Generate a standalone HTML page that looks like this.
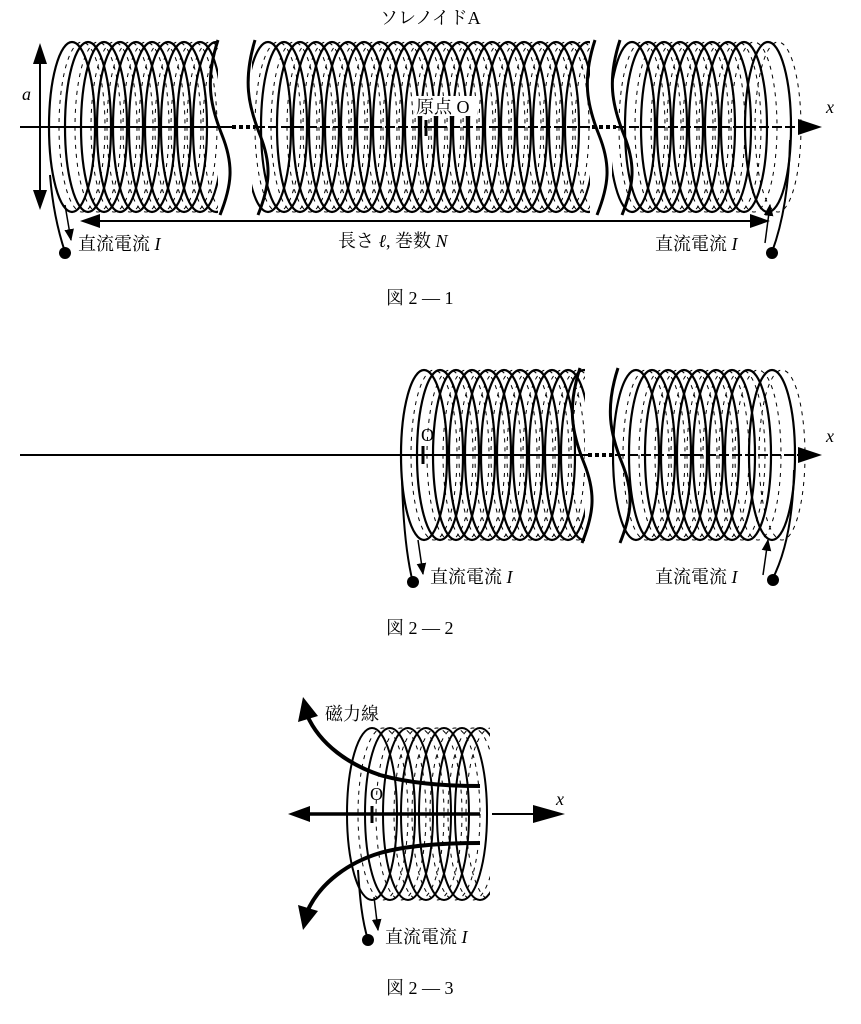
<!DOCTYPE html>
<html><head><meta charset="utf-8"><style>
body{margin:0;background:#fff}
svg{display:block}
text{font-family:"Liberation Serif","Noto Serif CJK SC",serif;fill:#000}
.it{font-style:italic}
</style></head><body>
<svg width="861" height="1024" viewBox="0 0 861 1024">
<defs>
<g id="L1"><ellipse cx="0" cy="0" rx="23" ry="85" fill="none" stroke="#000" stroke-width="2.2"/><ellipse cx="10" cy="0" rx="23" ry="85" fill="none" stroke="#000" stroke-width="1" stroke-dasharray="4 5"/></g>
<g id="L3"><ellipse cx="0" cy="0" rx="25" ry="86" fill="none" stroke="#000" stroke-width="2"/><ellipse cx="11" cy="0" rx="25" ry="86" fill="none" stroke="#000" stroke-width="1" stroke-dasharray="4 5"/></g>
<clipPath id="c1a"><rect x="0" y="0" width="218" height="300"/></clipPath>
<clipPath id="c1b"><rect x="252" y="0" width="338" height="300"/></clipPath>
<clipPath id="c1c"><rect x="612" y="0" width="200" height="300"/></clipPath>
<clipPath id="c2a"><rect x="380" y="300" width="205" height="300"/></clipPath>
<clipPath id="c2b"><rect x="612" y="300" width="200" height="300"/></clipPath>
<clipPath id="c3"><rect x="300" y="700" width="190" height="220"/></clipPath>
<marker id="ah" viewBox="0 0 10 10" refX="9" refY="5" markerWidth="8" markerHeight="8" orient="auto-start-reverse"><path d="M0 1 L10 5 L0 9 Z"/></marker>
</defs>

<!-- FIG 1 -->
<text x="380" y="24" font-size="18">ソレノイドA</text>
<g clip-path="url(#c1a)"><g transform="translate(0,127)">
<use href="#L1" x="72"/><use href="#L1" x="88"/><use href="#L1" x="104"/><use href="#L1" x="120"/><use href="#L1" x="136"/><use href="#L1" x="152"/><use href="#L1" x="168"/><use href="#L1" x="184"/><use href="#L1" x="200"/><use href="#L1" x="216"/>
</g></g>
<g clip-path="url(#c1b)"><g transform="translate(0,127)">
<use href="#L1" x="268"/><use href="#L1" x="284"/><use href="#L1" x="300"/><use href="#L1" x="316"/><use href="#L1" x="332"/><use href="#L1" x="348"/><use href="#L1" x="364"/><use href="#L1" x="380"/><use href="#L1" x="396"/><use href="#L1" x="412"/><use href="#L1" x="428"/><use href="#L1" x="444"/><use href="#L1" x="460"/><use href="#L1" x="476"/><use href="#L1" x="492"/><use href="#L1" x="508"/><use href="#L1" x="524"/><use href="#L1" x="540"/><use href="#L1" x="556"/><use href="#L1" x="572"/><use href="#L1" x="588"/>
</g></g>
<g clip-path="url(#c1c)"><g transform="translate(0,127)">
<use href="#L1" x="632"/><use href="#L1" x="648"/><use href="#L1" x="664"/><use href="#L1" x="680"/><use href="#L1" x="696"/><use href="#L1" x="712"/><use href="#L1" x="728"/><use href="#L1" x="744"/><use href="#L1" x="768"/>
</g></g>
<g fill="none" stroke="#000" stroke-width="3">
<path d="M218 40 C205 80 210 105 222 135 S232 185 220 215"/>
<path d="M255 40 C243 80 248 105 260 135 S270 185 258 215"/>
<path d="M595 40 C582 80 587 105 599 135 S609 185 597 215"/>
<path d="M620 40 C607 80 612 105 624 135 S634 185 622 215"/>
</g>
<line x1="20" y1="127" x2="232" y2="127" stroke="#000" stroke-width="2"/>
<line x1="232" y1="127" x2="255" y2="127" stroke="#000" stroke-width="4" stroke-dasharray="4 3"/>
<line x1="255" y1="127" x2="592" y2="127" stroke="#000" stroke-width="2" stroke-dasharray="10 3"/>
<line x1="592" y1="127" x2="616" y2="127" stroke="#000" stroke-width="4" stroke-dasharray="4 3"/>
<line x1="616" y1="127" x2="800" y2="127" stroke="#000" stroke-width="2" stroke-dasharray="10 3"/>
<path d="M798 119 L822 127 L798 135 Z"/>
<text x="826" y="113" font-size="18" class="it">x</text>
<text x="22" y="100" font-size="18" class="it">a</text>
<line x1="40" y1="50" x2="40" y2="205" stroke="#000" stroke-width="2"/>
<path d="M33 64 L40 43 L47 64 Z"/><path d="M33 190 L40 210 L47 190 Z"/>
<line x1="426" y1="120" x2="426" y2="136" stroke="#000" stroke-width="3"/>
<rect x="415" y="96" width="62" height="20" fill="#fff"/>
<text x="416" y="113" font-size="18">原点 O</text>
<line x1="90" y1="221" x2="760" y2="221" stroke="#000" stroke-width="2"/>
<path d="M100 214 L80 221 L100 228 Z"/><path d="M750 214 L770 221 L750 228 Z"/>
<rect x="336" y="228" width="170" height="22" fill="#fff"/>
<text x="338" y="247" font-size="18">長さ <tspan class="it">ℓ</tspan>, 巻数 <tspan class="it">N</tspan></text>
<path d="M50 175 C52 200 56 225 65 252" fill="none" stroke="#000" stroke-width="2"/>
<line x1="65" y1="205" x2="71" y2="240" stroke="#000" stroke-width="1.5" marker-end="url(#ah)"/>
<circle cx="65" cy="253" r="6"/>
<text x="78" y="250" font-size="18">直流電流 <tspan class="it">I</tspan></text>
<path d="M790 140 C789 190 782 225 772 252" fill="none" stroke="#000" stroke-width="2"/>
<line x1="765" y1="243" x2="770" y2="205" stroke="#000" stroke-width="1.5" marker-end="url(#ah)"/>
<circle cx="772" cy="253" r="6"/>
<text x="655" y="250" font-size="18">直流電流 <tspan class="it">I</tspan></text>
<text x="386" y="304" font-size="18">図 2 — 1</text>

<!-- FIG 2 -->
<g clip-path="url(#c2a)"><g transform="translate(0,455)">
<use href="#L1" x="424"/><use href="#L1" x="440"/><use href="#L1" x="456"/><use href="#L1" x="472"/><use href="#L1" x="488"/><use href="#L1" x="504"/><use href="#L1" x="520"/><use href="#L1" x="536"/><use href="#L1" x="552"/><use href="#L1" x="568"/><use href="#L1" x="584"/>
</g></g>
<g clip-path="url(#c2b)"><g transform="translate(0,455)">
<use href="#L1" x="636"/><use href="#L1" x="652"/><use href="#L1" x="668"/><use href="#L1" x="684"/><use href="#L1" x="700"/><use href="#L1" x="716"/><use href="#L1" x="732"/><use href="#L1" x="748"/><use href="#L1" x="772"/>
</g></g>
<g fill="none" stroke="#000" stroke-width="3">
<path d="M580 368 C567 408 572 433 584 463 S594 513 582 543"/>
<path d="M618 368 C605 408 610 433 622 463 S632 513 620 543"/>
</g>
<line x1="20" y1="455" x2="588" y2="455" stroke="#000" stroke-width="2"/>
<line x1="588" y1="455" x2="615" y2="455" stroke="#000" stroke-width="4" stroke-dasharray="4 3"/>
<line x1="615" y1="455" x2="800" y2="455" stroke="#000" stroke-width="2" stroke-dasharray="10 3"/>
<path d="M798 447 L822 455 L798 463 Z"/>
<text x="826" y="442" font-size="18" class="it">x</text>
<line x1="423" y1="446" x2="423" y2="464" stroke="#000" stroke-width="3"/>
<text x="421" y="441" font-size="18">O</text>
<path d="M402 480 C403 520 406 555 413 583" fill="none" stroke="#000" stroke-width="2"/>
<line x1="418" y1="540" x2="423" y2="574" stroke="#000" stroke-width="1.5" marker-end="url(#ah)"/>
<circle cx="413" cy="582" r="6"/>
<text x="430" y="583" font-size="18">直流電流 <tspan class="it">I</tspan></text>
<path d="M794 470 C793 520 785 555 772 580" fill="none" stroke="#000" stroke-width="2"/>
<line x1="763" y1="575" x2="768" y2="540" stroke="#000" stroke-width="1.5" marker-end="url(#ah)"/>
<circle cx="773" cy="580" r="6"/>
<text x="655" y="583" font-size="18">直流電流 <tspan class="it">I</tspan></text>
<text x="386" y="634" font-size="18">図 2 — 2</text>

<!-- FIG 3 -->
<g clip-path="url(#c3)"><g transform="translate(0,814)">
<use href="#L3" x="372"/><use href="#L3" x="390"/><use href="#L3" x="408"/><use href="#L3" x="426"/><use href="#L3" x="444"/><use href="#L3" x="462"/><use href="#L3" x="480"/>
</g></g>
<line x1="300" y1="814" x2="480" y2="814" stroke="#000" stroke-width="3.5"/>
<path d="M310 806 L288 814 L310 822 Z"/>
<line x1="492" y1="814" x2="545" y2="814" stroke="#000" stroke-width="2"/>
<path d="M533 805 L565 814 L533 823 Z"/>
<text x="556" y="805" font-size="18" class="it">x</text>
<line x1="372" y1="806" x2="372" y2="823" stroke="#000" stroke-width="3"/>
<text x="370" y="800" font-size="18">O</text>
<path d="M480 786 C440 786 405 782 380 775 C350 765 320 745 307 715" fill="none" stroke="#000" stroke-width="4"/>
<path d="M298 722 L303 697 L318 716 Z"/>
<path d="M480 843 C440 843 405 846 380 853 C350 862 320 882 307 912" fill="none" stroke="#000" stroke-width="4"/>
<path d="M298 905 L303 930 L318 911 Z"/>
<text x="325" y="720" font-size="18">磁力線</text>
<path d="M358 870 C360 900 362 920 368 940" fill="none" stroke="#000" stroke-width="2"/>
<line x1="374" y1="897" x2="378" y2="930" stroke="#000" stroke-width="1.5" marker-end="url(#ah)"/>
<circle cx="368" cy="940" r="6"/>
<text x="385" y="943" font-size="18">直流電流 <tspan class="it">I</tspan></text>
<text x="386" y="994" font-size="18">図 2 — 3</text>
</svg>
</body></html>
